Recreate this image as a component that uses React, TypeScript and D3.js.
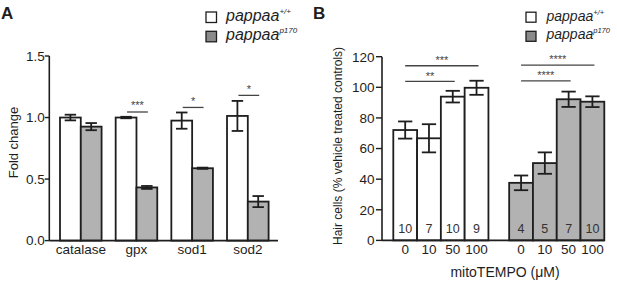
import React from "react";
import * as d3 from "d3";

// ---------- Panel A data ----------
const genes = ["catalase", "gpx", "sod1", "sod2"];
const wtFold = [1.0, 1.0, 0.975, 1.013];
const wtFoldErr = [0.023, 0.006, 0.066, 0.122];
const mutFold = [0.926, 0.432, 0.588, 0.317];
const mutFoldErr = [0.029, 0.012, 0.005, 0.045];
const foldTicks = [0, 0.5, 1.0, 1.5];
const sigAGenes = ["gpx", "sod1", "sod2"];
const sigALabels = ["***", "*", "*"];
const sigALevels = [1.045, 1.082, 1.18];

// ---------- Panel B data ----------
const doses = ["0", "10", "50", "100"];
const wtHair = [72.1, 66.7, 93.9, 99.7];
const wtHairErr = [5.6, 9.2, 3.8, 4.6];
const mutHair = [37.6, 50.5, 92.2, 90.6];
const mutHairErr = [4.8, 7.0, 5.0, 3.5];
const wtN = [10, 7, 10, 9];
const mutN = [4, 5, 7, 10];
const hairTicks = [0, 20, 40, 60, 80, 100, 120];
const sigBGroups = ["wt", "wt", "mut", "mut"];
const sigBFrom = ["0", "0", "0", "0"];
const sigBTo = ["100", "50", "100", "50"];
const sigBLevels = [114.1, 103.9, 114.5, 104.2];
const sigBLabels = ["***", "**", "****", "****"];

const FONT = "'Liberation Sans', Arial, Helvetica, sans-serif";
const INK = "#1e1e1e";
const GREY = "#b2b2b2";
const LEG_GREY = "#8a8a8a";
const SIG = "#444";

function PanelA() {
  const y = d3.scaleLinear().domain([0, 1.5]).range([240.6, 56]);
  const x = d3.scaleBand().domain(genes).range([60, 268.6]).paddingInner(0.253).paddingOuter(0);
  const inner = d3.scaleBand().domain(["wt", "mut"]).range([0, x.bandwidth()]);
  const bw = inner.bandwidth();
  const cap = bw * 0.55;
  const axisX = 49.3;
  const series = [
    { key: "wt", vals: wtFold, errs: wtFoldErr, fill: "#fff" },
    { key: "mut", vals: mutFold, errs: mutFoldErr, fill: GREY },
  ];
  return (
    <g>
      <text x={1} y={19.3} fontSize={17} fontWeight="bold" fontFamily={FONT} fill={INK}>A</text>
      {/* legend */}
      <rect x={206} y={12} width={10.5} height={10.5} fill="#fff" stroke={INK} strokeWidth={1.3} />
      <rect x={206} y={31.3} width={10.5} height={10.5} fill={LEG_GREY} stroke={INK} strokeWidth={1.3} />
      <text x={226} y={20.5} fontSize={16} fontStyle="italic" fontFamily={FONT} fill={INK}>
        pappaa<tspan dy={-7} fontSize={8}>+/+</tspan>
      </text>
      <text x={226} y={39.5} fontSize={16} fontStyle="italic" fontFamily={FONT} fill={INK}>
        pappaa<tspan dy={-7} fontSize={8}>p170</tspan>
      </text>
      {/* bars */}
      {series.map((s) =>
        genes.map((g, i) => {
          const x0 = (x(g) as number) + (inner(s.key) as number);
          const cx = x0 + bw / 2;
          return (
            <g key={s.key + g}>
              <rect x={x0} y={y(s.vals[i])} width={bw} height={y(0) - y(s.vals[i])} fill={s.fill} stroke={INK} strokeWidth={1.8} />
              <line x1={cx} x2={cx} y1={y(s.vals[i] - s.errs[i])} y2={y(s.vals[i] + s.errs[i])} stroke={INK} strokeWidth={1.8} />
              <line x1={cx - cap / 2} x2={cx + cap / 2} y1={y(s.vals[i] + s.errs[i])} y2={y(s.vals[i] + s.errs[i])} stroke={INK} strokeWidth={1.8} />
              <line x1={cx - cap / 2} x2={cx + cap / 2} y1={y(s.vals[i] - s.errs[i])} y2={y(s.vals[i] - s.errs[i])} stroke={INK} strokeWidth={1.8} />
            </g>
          );
        })
      )}
      {/* significance */}
      {sigAGenes.map((g, i) => {
        const x1 = (x(g) as number) + (inner("wt") as number) + bw / 2 + 1;
        const x2 = (x(g) as number) + (inner("mut") as number) + bw / 2 + 1;
        const ly = y(sigALevels[i]);
        return (
          <g key={"sa" + g}>
            <line x1={x1} x2={x2} y1={ly} y2={ly} stroke={SIG} strokeWidth={1.3} />
            <text x={(x1 + x2) / 2} y={ly - 2.5} textAnchor="middle" fontSize={11} fontFamily={FONT} fill={SIG}>{sigALabels[i]}</text>
          </g>
        );
      })}
      {/* axes */}
      <line x1={axisX} x2={axisX} y1={y(1.5)} y2={y(0)} stroke={INK} strokeWidth={1.6} />
      <line x1={axisX} x2={278} y1={y(0)} y2={y(0)} stroke={INK} strokeWidth={1.6} />
      {foldTicks.map((t) => (
        <g key={"ta" + t}>
          <line x1={axisX - 4.5} x2={axisX} y1={y(t)} y2={y(t)} stroke={INK} strokeWidth={1.4} />
          <text x={axisX - 4.5} y={y(t)} dy="0.36em" textAnchor="end" fontSize={13.5} fontFamily={FONT} fill={INK}>{d3.format(".1f")(t)}</text>
        </g>
      ))}
      {genes.map((g) => (
        <text key={"xa" + g} x={(x(g) as number) + x.bandwidth() / 2} y={253.5} textAnchor="middle" fontSize={13.5} fontFamily={FONT} fill={INK}>{g}</text>
      ))}
      <text transform={`translate(18,142.5) rotate(-90)`} textAnchor="middle" fontSize={13} fontFamily={FONT} fill={INK}>Fold change</text>
    </g>
  );
}

function PanelB() {
  const y = d3.scaleLinear().domain([0, 120]).range([240.4, 56.7]);
  const grp = d3.scaleBand().domain(["wt", "mut"]).range([393.3, 604.3]).paddingInner(0.179).paddingOuter(0);
  const dose = d3.scaleBand().domain(doses).range([0, grp.bandwidth()]);
  const bw = dose.bandwidth();
  const cap = bw * 0.6;
  const axisX = 382;
  const series = [
    { key: "wt", vals: wtHair, errs: wtHairErr, n: wtN, fill: "#fff" },
    { key: "mut", vals: mutHair, errs: mutHairErr, n: mutN, fill: GREY },
  ];
  const cxOf = (g: string, d: string) => (grp(g) as number) + (dose(d) as number) + bw / 2;
  return (
    <g>
      <text x={313} y={18.5} fontSize={17} fontWeight="bold" fontFamily={FONT} fill={INK}>B</text>
      {/* legend */}
      <rect x={526} y={12.2} width={10} height={10} fill="#fff" stroke={INK} strokeWidth={1.3} />
      <rect x={526} y={31.3} width={10} height={10} fill={LEG_GREY} stroke={INK} strokeWidth={1.3} />
      <text x={546.5} y={20.5} fontSize={14} fontStyle="italic" fontFamily={FONT} fill={INK}>
        pappaa<tspan dy={-6} fontSize={7.5}>+/+</tspan>
      </text>
      <text x={546.5} y={39} fontSize={14} fontStyle="italic" fontFamily={FONT} fill={INK}>
        pappaa<tspan dy={-6} fontSize={7.5}>p170</tspan>
      </text>
      {/* bars */}
      {series.map((s) =>
        doses.map((d, i) => {
          const x0 = (grp(s.key) as number) + (dose(d) as number);
          const cx = x0 + bw / 2;
          const hi = y(s.vals[i] + s.errs[i]);
          const lo = y(s.vals[i] - s.errs[i]);
          return (
            <g key={s.key + d}>
              <rect x={x0} y={y(s.vals[i])} width={bw} height={y(0) - y(s.vals[i])} fill={s.fill} stroke={INK} strokeWidth={1.8} />
              <line x1={cx} x2={cx} y1={lo} y2={hi} stroke={INK} strokeWidth={1.8} />
              <line x1={cx - cap / 2} x2={cx + cap / 2} y1={hi} y2={hi} stroke={INK} strokeWidth={1.8} />
              <line x1={cx - cap / 2} x2={cx + cap / 2} y1={lo} y2={lo} stroke={INK} strokeWidth={1.8} />
              <text x={cx} y={232.5} textAnchor="middle" fontSize={12.5} fontFamily={FONT} fill="#333">{s.n[i]}</text>
              <text x={cx} y={254.3} textAnchor="middle" fontSize={13.5} fontFamily={FONT} fill={INK}>{d}</text>
            </g>
          );
        })
      )}
      {/* significance */}
      {sigBLabels.map((lab, i) => {
        const x1 = cxOf(sigBGroups[i], sigBFrom[i]);
        const x2 = cxOf(sigBGroups[i], sigBTo[i]) + 2;
        const ly = y(sigBLevels[i]);
        return (
          <g key={"sb" + i}>
            <line x1={x1} x2={x2} y1={ly} y2={ly} stroke={SIG} strokeWidth={1.3} />
            <text x={(x1 + x2) / 2} y={ly - 1.8} textAnchor="middle" fontSize={11} fontFamily={FONT} fill={SIG}>{lab}</text>
          </g>
        );
      })}
      {/* axes */}
      <line x1={axisX} x2={axisX} y1={y(120)} y2={y(0)} stroke={INK} strokeWidth={1.6} />
      <line x1={axisX} x2={604.3} y1={y(0)} y2={y(0)} stroke={INK} strokeWidth={1.6} />
      {hairTicks.map((t) => (
        <g key={"tb" + t}>
          <line x1={axisX - 6} x2={axisX} y1={y(t)} y2={y(t)} stroke={INK} strokeWidth={1.4} />
          <text x={axisX - 7.5} y={y(t)} dy="0.36em" textAnchor="end" fontSize={13.5} fontFamily={FONT} fill={INK}>{t}</text>
        </g>
      ))}
      <text x={505} y={277} textAnchor="middle" fontSize={14} fontFamily={FONT} fill={INK}>mitoTEMPO (μM)</text>
      <text transform={`translate(342.3,146) rotate(-90)`} textAnchor="middle" fontSize={12} fontFamily={FONT} fill={INK}>Hair cells (% vehicle treated controls)</text>
    </g>
  );
}

export default function App() {
  return (
    <svg width={617} height={282} style={{ position: "absolute", left: 0, top: 0, background: "#fff" }}>
      <rect width={617} height={282} fill="#fff" />
      <PanelA />
      <PanelB />
    </svg>
  );
}
